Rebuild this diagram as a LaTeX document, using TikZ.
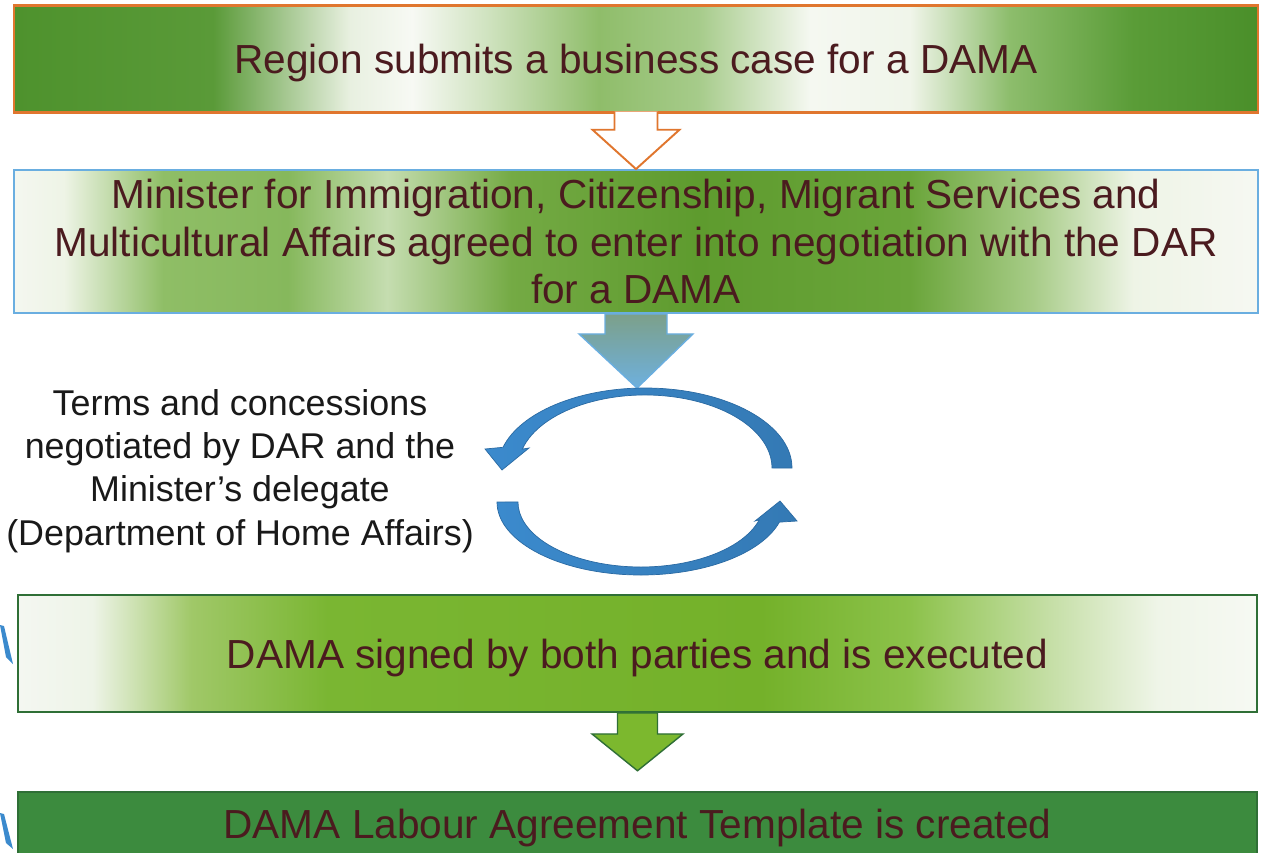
\documentclass[tikz,border=0pt]{standalone}
\usepackage{fontspec}
\setmainfont{Liberation Sans}
\usetikzlibrary{calc}

\definecolor{txtred}{HTML}{4B1B1F}
\definecolor{edgeorange}{HTML}{E0762E}
\definecolor{edgeblue}{HTML}{6AAEE0}
\definecolor{edgegreen}{HTML}{2F6F36}
\definecolor{darkgreen}{HTML}{3C8B3E}
\definecolor{leafgreen}{HTML}{7CB82E}
\definecolor{roundblue}{HTML}{3B8ACD}
\definecolor{roundedge}{HTML}{2A6AA3}
\definecolor{shafttop}{HTML}{7CA08A}
\definecolor{shaftbot}{HTML}{6EB0DE}

% band colours, left to right
\definecolor{ga}{HTML}{4E922D}\definecolor{gb}{HTML}{5A9A38}\definecolor{gc}{HTML}{E8F0E0}
\definecolor{gd}{HTML}{F7F9F4}\definecolor{ge}{HTML}{D0E3C0}\definecolor{gf}{HTML}{8FBD6A}
\definecolor{gg}{HTML}{A6CB8A}\definecolor{gh}{HTML}{F5F8F1}\definecolor{gi}{HTML}{F0F5EA}
\definecolor{gj}{HTML}{8DBD6C}\definecolor{gk}{HTML}{5A9C37}\definecolor{gl}{HTML}{4A8F2A}
\definecolor{ma}{HTML}{F4F7F0}\definecolor{mb}{HTML}{EEF4E6}\definecolor{mc}{HTML}{8FBE66}
\definecolor{md}{HTML}{86B85C}\definecolor{me}{HTML}{C5DDB0}\definecolor{mf}{HTML}{74AA44}
\definecolor{mg}{HTML}{5E9B2E}\definecolor{mh}{HTML}{6AA53A}\definecolor{mi}{HTML}{A8CC88}
\definecolor{mj}{HTML}{EEF4E6}\definecolor{mk}{HTML}{F6F8F2}
\definecolor{ya}{HTML}{F4F7F1}\definecolor{yb}{HTML}{EEF4E8}\definecolor{yc}{HTML}{A0C868}
\definecolor{yd}{HTML}{7AB632}\definecolor{ye}{HTML}{74B12A}\definecolor{yf}{HTML}{8CC24A}
\definecolor{yg}{HTML}{C4DEA4}\definecolor{yh}{HTML}{EFF5E8}\definecolor{yi}{HTML}{F6F9F3}

\pgfdeclarehorizontalshading{bandone}{100bp}{color(0bp)=(ga); color(25bp)=(ga);
  color(33bp)=(gb); color(38.5bp)=(gc); color(41bp)=(gd); color(44bp)=(ge);
  color(48.5bp)=(gf); color(52.5bp)=(gg); color(57bp)=(gh); color(61bp)=(gi);
  color(65bp)=(gj); color(70bp)=(gk); color(75bp)=(gl); color(100bp)=(gl)}
\pgfdeclarehorizontalshading{bandtwo}{100bp}{color(0bp)=(ma); color(25bp)=(ma);
  color(27bp)=(mb); color(31bp)=(mc); color(36bp)=(md); color(40bp)=(me);
  color(45bp)=(mf); color(52.5bp)=(mg); color(61bp)=(mh); color(66bp)=(mi);
  color(70bp)=(mj); color(75bp)=(mk); color(100bp)=(mk)}
\pgfdeclarehorizontalshading{bandthree}{100bp}{color(0bp)=(ya); color(25bp)=(ya);
  color(28bp)=(yb); color(32bp)=(yc); color(37.5bp)=(yd); color(55bp)=(ye);
  color(61bp)=(yf); color(66.5bp)=(yg); color(71bp)=(yh); color(75bp)=(yi);
  color(100bp)=(yi)}

\tikzset{flowbox/.style={draw, line width=1.4, inner sep=0pt, text=txtred, align=center,
  font=\fontsize{23.1}{27.2}\selectfont}}
\tikzset{oneline/.style={text depth=0pt}}
\tikzset{sidenote/.style={inner sep=0pt, align=center, text=black!90,
  font=\fontsize{20.4}{24.6}\selectfont}}
\tikzset{hollowarrow/.style={draw=edgeorange, fill=white, line width=1.1, line join=miter}}
\tikzset{shadearrow/.style={draw=edgeblue, line width=.8, top color=shafttop, bottom color=shaftbot}}
\tikzset{greenarrow/.style={draw=edgegreen, fill=leafgreen, line width=.8}}
\tikzset{roundarrow/.style={draw=roundedge, line width=.4, left color=roundblue, right color=roundblue!88!black}}

\begin{document}
\begin{tikzpicture}[x=0.02cm, y=-0.02cm]
  \useasboundingbox (0,0) rectangle (1261,852);
  \clip (0,0) rectangle (1261,852);
  \fill[white] (0,0) rectangle (1261,852);

  \node[flowbox, oneline, draw=edgeorange, shading=bandone, minimum width=24.88cm, minimum height=2.14cm]
    (submit) at (636,59) {Region submits a business case for a DAMA};
  \node[flowbox, draw=edgeblue, line width=1.1, shading=bandtwo, minimum width=24.88cm, minimum height=2.86cm]
    (minister) at (636,241.5) {Minister for Immigration, Citizenship, Migrant Services and\\
    Multicultural Affairs agreed to enter into negotiation with the DAR\\for a DAMA};
  \node[flowbox, oneline, draw=edgegreen, line width=1.1, shading=bandthree, minimum width=24.78cm, minimum height=2.34cm]
    (signed) at (637.5,653.5) {DAMA signed by both parties and is executed};
  \node[flowbox, oneline, draw=edgegreen, fill=darkgreen, minimum width=24.78cm, minimum height=1.28cm]
    (template) at (637.5,824) {DAMA Labour Agreement Template is created};

  \node[sidenote] (terms) at (240,471) {Terms and concessions\\negotiated by DAR and the\\
    Minister’s delegate\\(Department of Home Affairs)};

  \coordinate (looptop) at (637,388);

  \draw[hollowarrow] ($(submit.south)+(-21.5,-2)$) -- ++(0,18) -- ++(-22,0) -- (minister.north)
    -- ($(submit.south)+(43.5,16)$) -- ++(-22,0) -- ++(0,-18);
  \draw[shadearrow] ($(minister.south)+(-31,0)$) -- ++(0,20) -- ++(-26,0) -- (looptop)
    -- ($(minister.south)+(57,20)$) -- ++(-26,0) -- ++(0,-20) -- cycle;
  \draw[greenarrow] ($(signed.south)+(-20,0)$) -- ++(0,21) -- ++(-25.5,0) -- ($(template.north)+(0,-20)$)
    -- ($(signed.south)+(45.5,21)$) -- ++(-25.5,0) -- ++(0,-21) -- cycle;

  \draw[roundarrow] (792,468) arc[start angle=0, end angle=-165, x radius=147, y radius=80]
    -- (485,449) -- (502,470) -- (529,448) -- (522.3,449.1)
    arc[start angle=-165, end angle=0, x radius=127, y radius=73] -- cycle;
  \draw[roundarrow] (497,502) arc[start angle=180, end angle=16, x radius=144, y radius=73]
    -- (797,521) -- (780,501) -- (755,521) -- (759.2,519.9)
    arc[start angle=16, end angle=180, x radius=123, y radius=65] -- cycle;

  \fill[roundblue] (0,625) -- (4,626) -- (13,664) -- (6,657) -- cycle;
  \fill[roundblue] (0,813) -- (4,814) -- (13,849) -- (6,843) -- cycle;
\end{tikzpicture}
\end{document}
